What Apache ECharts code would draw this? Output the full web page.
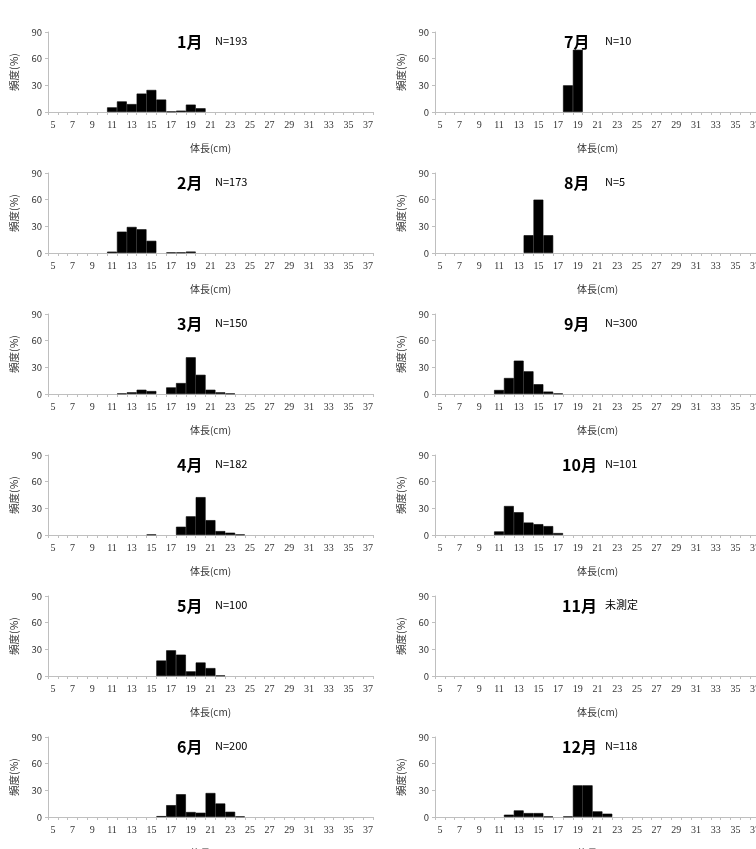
<!DOCTYPE html>
<html><head><meta charset="utf-8">
<script src="https://cdn.jsdelivr.net/npm/echarts@6/dist/echarts.min.js"></script>
<style>html,body{margin:0;padding:0;background:#fff}#c{width:756px;height:849px}</style>
</head><body><div id="c"></div>
<script>
var categories = ['5','6','7','8','9','10','11','12','13','14','15','16','17','18','19','20','21','22','23','24','25','26','27','28','29','30','31','32','33','34','35','36','37'];
var yTicks = [0, 30, 60, 90];
var monthLabels = ['1月','2月','3月','4月','5月','6月','7月','8月','9月','10月','11月','12月'];
var noteLabels = ['N=193','N=173','N=150','N=182','N=100','N=200','N=10','N=5','N=300','N=101','未測定','N=118'];
var xName = '体長(cm)';
var yName = '頻度(%)';

var jan = [0,0,0,0,0,0,5.2,11.9,8.9,20.7,24.8,14,0.5,1.5,8.3,4.2,0,0,0,0,0,0,0,0,0,0,0,0,0,0,0,0,0];
var feb = [0,0,0,0,0,0,1.5,24,29.3,26.7,13.7,0,0.6,0.6,1.6,0,0,0,0,0,0,0,0,0,0,0,0,0,0,0,0,0,0];
var mar = [0,0,0,0,0,0,0,0.5,1.9,4.8,3.3,0,7.4,12.3,41.3,21.6,4.8,1.9,0.5,0,0,0,0,0,0,0,0,0,0,0,0,0,0];
var apr = [0,0,0,0,0,0,0,0,0,0,0.5,0,0,9.3,21,42.6,16.7,4.4,2.6,0.5,0,0,0,0,0,0,0,0,0,0,0,0,0];
var may = [0,0,0,0,0,0,0,0,0,0,0,17.4,28.9,24,5.2,15.2,8.9,0.5,0,0,0,0,0,0,0,0,0,0,0,0,0,0,0];
var jun = [0,0,0,0,0,0,0,0,0,0,0,1,13.3,25.6,5.6,4.8,27,15.2,5.9,0.6,0,0,0,0,0,0,0,0,0,0,0,0,0];
var jul = [0,0,0,0,0,0,0,0,0,0,0,0,0,30,70,0,0,0,0,0,0,0,0,0,0,0,0,0,0,0,0,0,0];
var aug = [0,0,0,0,0,0,0,0,0,20,60,20,0,0,0,0,0,0,0,0,0,0,0,0,0,0,0,0,0,0,0,0,0];
var sep = [0,0,0,0,0,0,4.5,18,37.5,25.5,11,2.7,0.5,0,0,0,0,0,0,0,0,0,0,0,0,0,0,0,0,0,0,0,0];
var oct = [0,0,0,0,0,0,4,32.6,25.6,14,12.2,10,2.2,0,0,0,0,0,0,0,0,0,0,0,0,0,0,0,0,0,0,0,0];
var nov = [0,0,0,0,0,0,0,0,0,0,0,0,0,0,0,0,0,0,0,0,0,0,0,0,0,0,0,0,0,0,0,0,0];
var dec = [0,0,0,0,0,0,0,2.6,7.4,4.4,4.4,0.5,0,0.5,35.6,35.6,6.3,3.7,0,0,0,0,0,0,0,0,0,0,0,0,0,0,0];

var monthData = [jan,feb,mar,apr,may,jun,jul,aug,sep,oct,nov,dec];

var FONT = '"Noto Sans CJK JP", "Noto Sans", sans-serif';
var SERIF = '"Liberation Serif", "DejaVu Serif", serif';
var grids = [], xAxes = [], yAxes = [], series = [], graphics = [];
for (var i = 0; i < 12; i++) {
  var col = i < 6 ? 0 : 1;
  var row = i % 6;
  var gl = col ? 435 : 48;
  var zeroY = 112 + row * 141;
  grids.push({left: gl, top: zeroY - 80, width: 325, height: 80, containLabel: false, outerBoundsMode: 'none'});
  xAxes.push({
    type: 'category', gridIndex: i, data: categories, boundaryGap: true,
    axisLine: {lineStyle: {color: '#bfbfbf', width: 1}},
    axisTick: {show: true, interval: 0, length: 3, lineStyle: {color: '#bfbfbf'}},
    axisLabel: {interval: 1, color: '#333', fontSize: 10, fontFamily: SERIF, margin: 8},
    name: xName, nameLocation: 'middle', nameGap: 31,
    nameTextStyle: {color: '#333', fontSize: 10, fontFamily: FONT}
  });
  yAxes.push({
    type: 'value', gridIndex: i, min: 0, max: 90, interval: 30,
    axisLine: {show: true, lineStyle: {color: '#bfbfbf', width: 1}},
    axisTick: {show: true, length: 3, lineStyle: {color: '#bfbfbf'}},
    splitLine: {show: false},
    axisLabel: {color: '#333', fontSize: 9.5, fontFamily: FONT, margin: 6},
    name: yName, nameLocation: 'middle', nameRotate: 90, nameGap: 29,
    nameTextStyle: {color: '#333', fontSize: 10.5, fontFamily: FONT}
  });
  series.push({
    type: 'bar', xAxisIndex: i, yAxisIndex: i,
    data: monthData[i].map(function (v) { return v === 0 ? '-' : v; }),
    barCategoryGap: '0%', barGap: '0%',
    itemStyle: {color: '#000', borderColor: '#000', borderWidth: 0.6},
    silent: true, animation: false
  });
  graphics.push({
    type: 'text', left: gl + 142 - (monthLabels[i].length > 2 ? 15 : 13), top: zeroY - 78,
    style: {text: monthLabels[i], fontSize: 16, fontWeight: 'bold', fontFamily: FONT, fill: '#000'}
  });
  graphics.push({
    type: 'text', left: gl + (col ? 170 : 167), top: zeroY - 77,
    style: {text: noteLabels[i], fontSize: 11, fontFamily: FONT, fill: '#000'}
  });
}

var chart = echarts.init(document.getElementById('c'), null, {renderer: 'canvas'});
chart.setOption({
  animation: false,
  backgroundColor: '#fff',
  grid: grids, xAxis: xAxes, yAxis: yAxes, series: series, graphic: graphics
});
</script></body></html>
